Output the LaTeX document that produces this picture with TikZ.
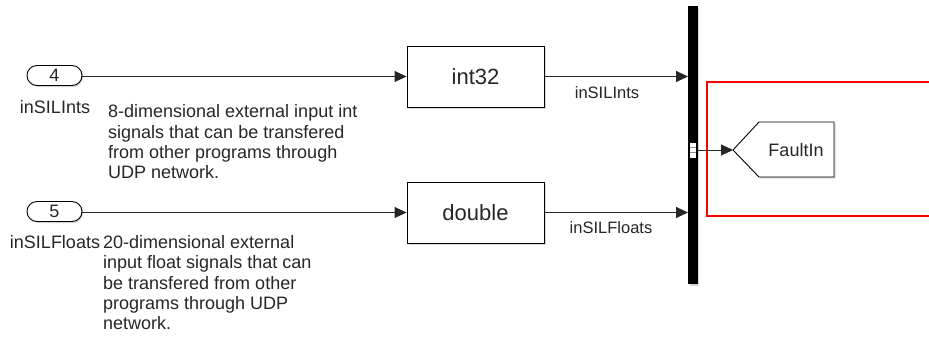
\documentclass[tikz,border=0pt]{standalone}
\usepackage{fontspec}
\setmainfont{Liberation Sans}
\usetikzlibrary{arrows.meta,shadows,positioning}
\definecolor{txt}{HTML}{262626}
\definecolor{redbox}{HTML}{FF0000}
\tikzset{
  x=1pt, y=-1pt,
  conn/.style={draw=black!85, line width=0.9pt, -{Triangle[length=12pt,width=11pt]}},
  inport/.style={draw=black, line width=0.9pt, rounded corners=10pt, minimum width=55pt, minimum height=20pt, inner sep=0pt, fill=white, font=\fontsize{18}{20}\selectfont, text=txt,
     drop shadow={opacity=0.35, shadow xshift=1.2pt, shadow yshift=-1.5pt}},
  convblock/.style={draw=black, line width=0.9pt, minimum width=137pt, minimum height=61pt, inner sep=0pt, fill=white, font=\fontsize{22}{24}\selectfont, text=txt,
     drop shadow={opacity=0.3, shadow xshift=1.5pt, shadow yshift=-1.5pt}},
  portlabel/.style={font=\fontsize{18}{20}\selectfont, text=txt, inner sep=0pt},
  siglabel/.style={font=\fontsize{16.5}{18}\selectfont, text=txt, inner sep=0pt},
  cmt/.style={font=\fontsize{18}{20.4}\selectfont, text=txt, inner sep=0pt, align=left},
}
\begin{document}
\begin{tikzpicture}
\useasboundingbox (0,0) rectangle (929,340);
\fill[white] (0,0) rectangle (929,340);

% red area
\draw[redbox, line width=2.4pt] (945,82) -- (707,82) -- (707,216) -- (945,216);

% inports
\node[inport] (p4) at (54.5,75.5) {4};
\node[inport] (p5) at (54.5,211.5) {5};
\node[portlabel, anchor=base] (l4) at (55,113.5) {inSILInts};
\node[portlabel, anchor=base] (l5) at (55,248.5) {inSILFloats};

% comments
\node[cmt, anchor=north west] (c1) at (108,104.5) {8-dimensional external input int\\signals that can be transfered\\from other programs through\\UDP network.};
\node[cmt, anchor=north west] (c2) at (103,235) {20-dimensional external\\input float signals that can\\be transfered from other\\programs through UDP\\network.};

% conversion blocks
\node[convblock] (b1) at (475.5,76.5) {int32};
\node[convblock] (b2) at (475.5,212.5) {double};

% bus
\node[draw=none, fill=black, minimum width=9.5pt, minimum height=278pt, inner sep=0pt,
  drop shadow={opacity=0.3, shadow xshift=1.5pt, shadow yshift=-1.5pt}] (bus) at (692.75,145) {};
\coordinate (busin1) at (688,76.5);
\coordinate (busin2) at (688,212.5);
\coordinate (busout) at (697.5,150);
\fill[white] (690,142.5) rectangle (695.5,157.5);
\draw[black!45, line width=0.5pt] (690,147.5) -- (695.5,147.5) (690,152.5) -- (695.5,152.5);

% goto FaultIn
\coordinate (tip) at (733,150);
\fill[black!30, opacity=0.5] (734.5,151.5) -- (760.5,123.5) -- (835.5,123.5) -- (835.5,178.5) -- (760.5,178.5) -- cycle;
\filldraw[fill=white, draw=black, line width=0.9pt] (tip) -- (759,122) -- (834,122) -- (834,177) -- (759,177) -- cycle;
\node[portlabel] (fault) at (796,150) {FaultIn};

% connectors
\draw[conn] (p4.east |- b1.west) -- (b1.west);
\draw[conn] (p5.east |- b2.west) -- (b2.west);
\draw[conn] (b1.east) -- (busin1);
\draw[conn] (b2.east) -- (busin2);
\draw[conn] (busout) -- (tip);

\node[siglabel] (s1) at (607,93) {inSILInts};
\node[siglabel] (s2) at (611,228) {inSILFloats};
\end{tikzpicture}
\end{document}
